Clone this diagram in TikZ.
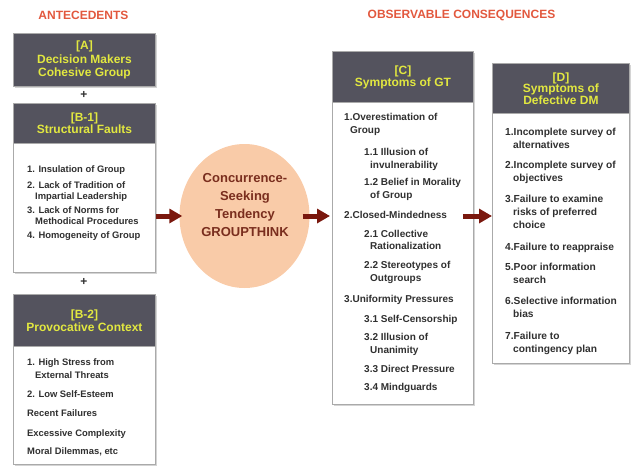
\documentclass[tikz,border=0pt]{standalone}
\usepackage{fontspec}
\setmainfont{Liberation Sans}
\usetikzlibrary{arrows.meta,shapes.geometric,shadows}
\definecolor{hdrfill}{RGB}{84,83,94}
\definecolor{hdrtext}{RGB}{226,232,64}
\definecolor{bodytext}{RGB}{48,48,48}
\definecolor{boxline}{RGB}{170,170,170}
\definecolor{titlered}{RGB}{226,88,62}
\definecolor{peach}{RGB}{249,203,168}
\definecolor{circtext}{RGB}{122,46,30}
\definecolor{arrowred}{RGB}{122,24,14}
\definecolor{shadowgray}{RGB}{212,212,212}
\newcommand\ind[1]{\\\hspace*{#1pt}}
\tikzset{
  boxshadow/.style={drop shadow={shadow xshift=1.5pt,shadow yshift=-1.5pt,fill=shadowgray,opacity=1}},
  bodybox/.style={draw=boxline, fill=white, line width=0.9pt, anchor=north west, inner sep=0pt, boxshadow},
  hdrbox/.style={draw=boxline, fill=hdrfill, line width=0.9pt, anchor=north west, inner sep=0pt,
    align=center, text=hdrtext, font=\fontsize{12}{#1}\selectfont\bfseries},
  hdrbox/.default=13,
  titletext/.style={text=titlered, font=\fontsize{12}{14}\selectfont\bfseries, inner sep=0pt},
  plustext/.style={text=bodytext, font=\fontsize{12}{14}\selectfont\bfseries, inner sep=0pt},
  itemtext/.style 2 args={anchor=north west, inner sep=0pt, align=left, text=bodytext,
    font=\fontsize{#1}{#2}\selectfont\bfseries},
  itemB/.style={itemtext={9.4}{10.5}},
  itemBB/.style={itemtext={9.4}{13.3}},
  itemC/.style={itemtext={10}{12.7}},
  itemD/.style={itemtext={10.2}{13.3}},
  bigarrow/.style={draw=arrowred, line width=5pt, -{Triangle[length=13pt,width=14pt]}},
  circshape/.style={ellipse, fill=peach, draw=none, minimum width=130pt, minimum height=144pt, inner sep=0pt},
  circlabel/.style={align=center, text=circtext, font=\fontsize{13}{18}\selectfont\bfseries, inner sep=0pt}
}
\begin{document}
\begin{tikzpicture}[x=1pt,y=-1pt]
\useasboundingbox (0,0) rectangle (631,466);

% titles
\node[titletext] (ttlA) at (83.5,15) {ANTECEDENTS};
\node[titletext] (ttlB) at (461.5,15) {OBSERVABLE CONSEQUENCES};

% box A
\node[hdrbox=13.3, minimum width=142pt, minimum height=53pt, boxshadow] (Ahdr) at (13,33)
  {[A]\\Decision Makers\\Cohesive Group};
\node[plustext] (plus1) at (84,95) {+};

% box B-1
\node[bodybox, minimum width=142pt, minimum height=169pt] (B1box) at (13,103) {};
\node[hdrbox=12.5, minimum width=142pt, minimum height=40pt] (B1hdr) at (13,103)
  {[B-1]\\Structural Faults};
\node[itemB] (b1i1) at (27,165.6) {1. Insulation of Group};
\node[itemB] (b1i2) at (27,181.6) {2. Lack of Tradition of\ind{8}Impartial Leadership};
\node[itemB] (b1i3) at (27,206.6) {3. Lack of Norms for\ind{8}Methodical Procedures};
\node[itemB] (b1i4) at (27,231.6) {4. Homogeneity of Group};
\node[plustext] (plus2) at (84,282) {+};

% box B-2
\node[bodybox, minimum width=142pt, minimum height=170pt] (B2box) at (13,294) {};
\node[hdrbox=13, minimum width=142pt, minimum height=52pt] (B2hdr) at (13,294)
  {[B-2]\\Provocative Context};
\node[itemBB] (b2i1) at (27,358.3) {1. High Stress from\ind{8}External Threats};
\node[itemBB] (b2i2) at (27,390) {2. Low Self-Esteem};
\node[itemBB] (b2i3) at (27,409.3) {Recent Failures};
\node[itemBB] (b2i4) at (27,429.3) {Excessive Complexity};
\node[itemBB] (b2i5) at (27,447.3) {Moral Dilemmas, etc};

% circle
\node[circshape] (circ) at (244.5,216) {};
\node[circlabel] (circtxt) at (245,205) {Concurrence-\\Seeking\\Tendency\\GROUPTHINK};

% box C
\node[bodybox, minimum width=141pt, minimum height=353pt] (Cbox) at (332,51) {};
\node[hdrbox=12, minimum width=141pt, minimum height=51pt] (Chdr) at (332,51)
  {[C]\\Symptoms of GT};
\node[itemC] (c1) at (344,113.5) {1.Overestimation of\ind{6}Group};
\node[itemC] (c11) at (364,148.2) {1.1 Illusion of\ind{6}invulnerability};
\node[itemC] (c12) at (364,178.2) {1.2 Belief in Morality\ind{6}of Group};
\node[itemC] (c2) at (344,211.5) {2.Closed-Mindedness};
\node[itemC] (c21) at (364,229.8) {2.1 Collective\ind{6}Rationalization};
\node[itemC] (c22) at (364,261.5) {2.2 Stereotypes of\ind{6}Outgroups};
\node[itemC] (c3) at (344,294.8) {3.Uniformity Pressures};
\node[itemC] (c31) at (364,314.8) {3.1 Self-Censorship};
\node[itemC] (c32) at (364,333.2) {3.2 Illusion of\ind{6}Unanimity};
\node[itemC] (c33) at (364,364.8) {3.3 Direct Pressure};
\node[itemC] (c34) at (364,383.2) {3.4 Mindguards};

% box D
\node[bodybox, minimum width=137pt, minimum height=300pt] (Dbox) at (492,63) {};
\node[hdrbox=11.5, minimum width=137pt, minimum height=50pt] (Dhdr) at (492,63)
  {[D]\\Symptoms of\\Defective DM};
\node[itemD] (d1) at (505,127.5) {1.Incomplete survey of\ind{8}alternatives};
\node[itemD] (d2) at (505,160.5) {2.Incomplete survey of\ind{8}objectives};
\node[itemD] (d3) at (505,194.5) {3.Failure to examine\ind{8}risks of preferred\ind{8}choice};
\node[itemD] (d4) at (505,242.5) {4.Failure to reappraise};
\node[itemD] (d5) at (505,262.5) {5.Poor information\ind{8}search};
\node[itemD] (d6) at (505,297) {6.Selective information\ind{8}bias};
\node[itemD] (d7) at (505,331.5) {7.Failure to\ind{8}contingency plan};

% arrows
\draw[bigarrow] (B1box.east |- circ.center) -- ([xshift=3pt]circ.west);
\draw[bigarrow] ([xshift=-7pt]circ.east) -- ([xshift=-2pt]Cbox.west |- circ.center);
\draw[bigarrow] ([xshift=-11pt]Cbox.east |- circ.center) -- (Dbox.west |- circ.center);
\end{tikzpicture}
\end{document}
